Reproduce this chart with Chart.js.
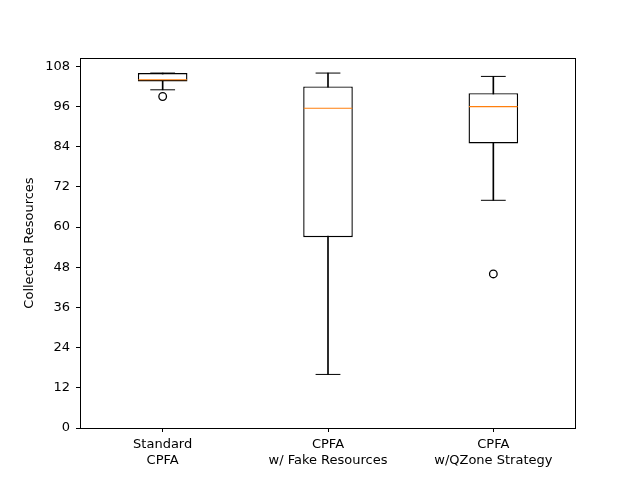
<!DOCTYPE html>
<html>
<head>
<meta charset="utf-8">
<script src="https://cdn.jsdelivr.net/npm/chart.js@4/dist/chart.umd.min.js"></script>
<style>
html,body{margin:0;padding:0;background:#fff;}
#wrap{width:640px;height:480px;}
</style>
</head>
<body>
<div id="wrap"><canvas id="c" width="640" height="480"></canvas></div>
<script>
const categories = [["Standard", "CPFA"], ["CPFA", "w/ Fake Resources"], ["CPFA", "w/QZone Strategy"]];
const whiskerLow = [101, 16, 68];
const q1 = [103.5, 57, 85];
const median = [104, 95.5, 96];
const q3 = [106, 102, 100];
const whiskerHigh = [106, 106, 105];
const outliers = [99, null, 46];
const yTickStep = 12;
const yMin = 0;
const yMax = 110.5;

Chart.defaults.font.family = "'DejaVu Sans'";
Chart.defaults.font.size = 13;
Chart.defaults.color = '#000';

const boxData = q1.map((v, i) => [v, q3[i]]);
const whiskerData = whiskerLow.map((v, i) => [v, whiskerHigh[i]]);

const frame = {
  id: 'frame',
  afterDatasetsDraw(chart) {
    const a = chart.chartArea, ctx = chart.ctx;
    ctx.save();
    ctx.strokeStyle = '#000';
    ctx.lineWidth = 1;
    ctx.strokeRect(Math.round(a.left) + 0.5, Math.round(a.top) + 0.5, Math.round(a.right - a.left) - 1, Math.round(a.bottom - a.top));
    ctx.restore();
  }
};

new Chart(document.getElementById('c'), {
  data: {
    labels: categories,
    datasets: [
      { type: 'bar', data: whiskerData, backgroundColor: '#000', borderWidth: 0, barThickness: 1, grouped: false, order: 4 },
      { type: 'bar', data: boxData, backgroundColor: '#fff', borderColor: '#000', borderWidth: 1.4, borderSkipped: false,
        categoryPercentage: 1, barPercentage: 0.3, grouped: false, order: 3 },
      { type: 'line', data: whiskerHigh, showLine: false, pointStyle: 'line', pointRadius: 12.4, pointBorderColor: '#000', pointBorderWidth: 1, order: 2 },
      { type: 'line', data: whiskerLow, showLine: false, pointStyle: 'line', pointRadius: 12.4, pointBorderColor: '#000', pointBorderWidth: 1, order: 2 },
      { type: 'line', data: median, showLine: false, pointStyle: 'line', pointRadius: 24.3, pointBorderColor: '#ff7f0e', pointBorderWidth: 1.2, order: 1 },
      { type: 'line', data: outliers, showLine: false, pointStyle: 'circle', pointRadius: 3.8, pointBackgroundColor: 'rgba(0,0,0,0)', pointBorderColor: '#000', pointBorderWidth: 1.3, order: 0 }
    ]
  },
  options: {
    responsive: false,
    animation: false,
    events: [],
    layout: { padding: { top: 58, right: 64, left: 0, bottom: 0 } },
    plugins: { legend: { display: false }, tooltip: { enabled: false } },
    scales: {
      x: {
        offset: true,
        grid: { display: true, offset: false, drawOnChartArea: false, drawTicks: true, tickLength: 4, color: '#000' },
        border: { display: false },
        ticks: { padding: 5, maxRotation: 0, autoSkip: false },
        afterFit(s) { s.height = 52; }
      },
      y: {
        min: yMin,
        max: yMax,
        grid: { display: true, drawOnChartArea: false, drawTicks: true, tickLength: 4, color: '#000' },
        border: { display: false },
        ticks: { stepSize: yTickStep, includeBounds: false, padding: 6 },
        title: { display: true, text: 'Collected Resources', font: { size: 13 }, padding: { top: 22, bottom: 0 } },
        afterFit(s) { s.width = 80; }
      }
    }
  },
  plugins: [frame]
});
</script>
</body>
</html>
